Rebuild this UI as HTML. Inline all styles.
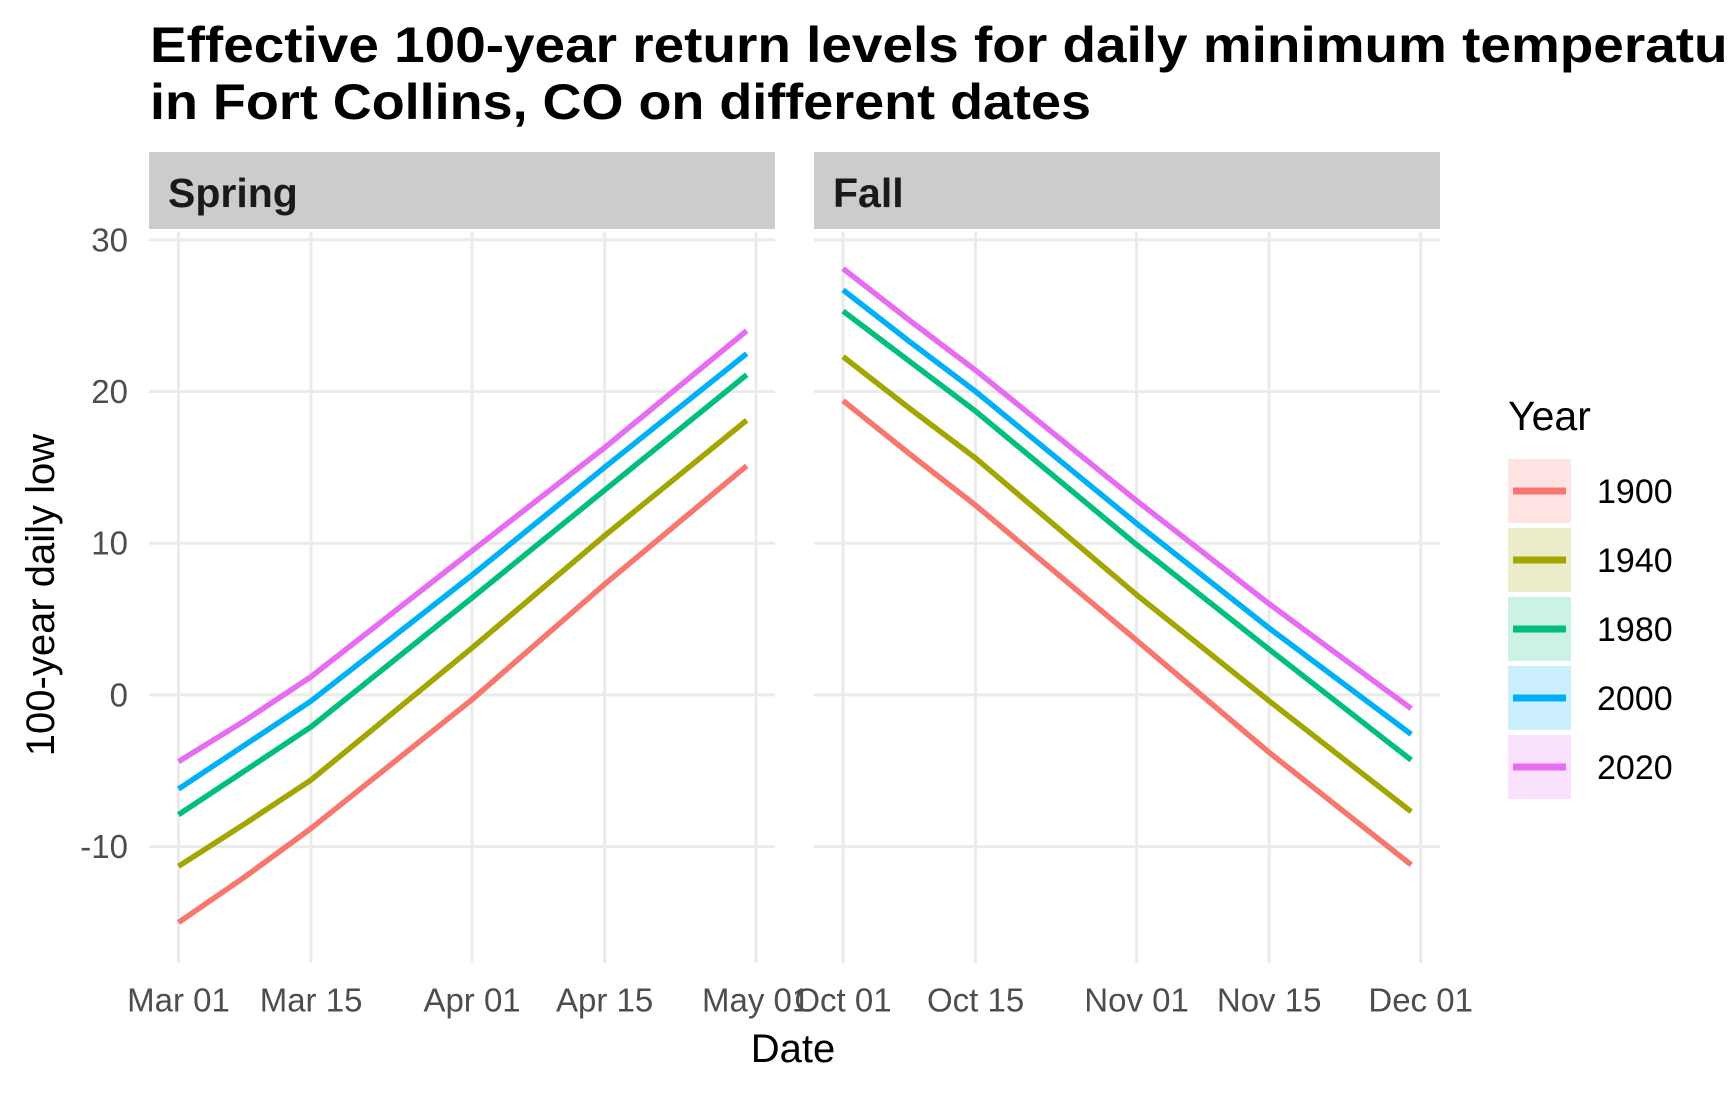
<!DOCTYPE html>
<html><head><meta charset="utf-8"><style>
html,body{margin:0;padding:0;background:#fff;}
svg{display:block;font-family:"Liberation Sans",sans-serif;}
</style></head><body>
<svg id="chart" width="1728" height="1094" viewBox="0 0 1728 1094">
<text x="150" y="62" font-size="50" font-weight="bold" fill="#000" textLength="1660" lengthAdjust="spacingAndGlyphs">Effective 100-year return levels for daily minimum temperatures</text>
<text x="150" y="119" font-size="50" font-weight="bold" fill="#000" textLength="941" lengthAdjust="spacingAndGlyphs">in Fort Collins, CO on different dates</text>
<g id="panels"></g>
<text x="41" y="595" font-size="40" fill="#000" text-anchor="middle" dominant-baseline="central" transform="rotate(-90 41 595)">100-year daily low</text>
<text x="793" y="1049" font-size="40" fill="#000" text-anchor="middle" dominant-baseline="central">Date</text>
<g id="legend"></g>
</svg>
<script>
const years = ["1900","1940","1980","2000","2020"];
const colors = ["#F8766D","#A3A500","#00BF7D","#00B0F6","#E76BF3"];
const yTicks = [-10,0,10,20,30];
const sampleDays = [0,7,14,31,45,60];
const springTickDays = [0,14,31,45,61];
const springTickLabels = ["Mar 01","Mar 15","Apr 01","Apr 15","May 01"];
const fallTickDays = [0,14,31,45,61];
const fallTickLabels = ["Oct 01","Oct 15","Nov 01","Nov 15","Dec 01"];
const spring1900 = [-15.0,-12.0,-8.8,-0.3,7.3,15.1];
const spring1940 = [-11.3,-8.5,-5.6,3.1,10.5,18.1];
const spring1980 = [-7.9,-5.0,-2.1,6.4,13.5,21.1];
const spring2000 = [-6.2,-3.3,-0.4,7.9,15.0,22.5];
const spring2020 = [-4.4,-1.7,1.2,9.5,16.3,24.0];
const fall1900 = [19.4,15.9,12.5,3.6,-3.8,-11.2];
const fall1940 = [22.3,18.9,15.6,6.6,-0.4,-7.7];
const fall1980 = [25.3,22.0,18.7,9.9,3.0,-4.3];
const fall2000 = [26.7,23.3,20.0,11.3,4.4,-2.6];
const fall2020 = [28.1,24.7,21.4,12.8,6.0,-0.9];
const springSeries = [spring1900,spring1940,spring1980,spring2000,spring2020];
const fallSeries = [fall1900,fall1940,fall1980,fall2000,fall2020];

const NS = "http://www.w3.org/2000/svg";
function mk(tag, attrs, parent){const e=document.createElementNS(NS,tag);for(const k in attrs)e.setAttribute(k,attrs[k]);parent.appendChild(e);return e;}
const yScale = v => 694.9 - 15.17*v;
const panelTop = 232, panelBottom = 963;
const panels = document.getElementById("panels");
const legend = document.getElementById("legend");

function drawPanel(name, x0, x1, origin, tickDays, tickLabels, series, showY){
  const xs = d => origin + d*9.47;
  const g = mk("g",{},panels);
  
  
  const strip = mk("rect",{x:x0,y:152,width:x1-x0,height:77,fill:"#cccccc"},g);
  
  
  const st = mk("text",{x:x0+19,y:193,"font-size":41,"font-weight":"bold",fill:"#1a1a1a","dominant-baseline":"central"},g);
  st.textContent = name==="spring"?"Spring":"Fall";
  
  
  yTicks.forEach(v=>{
    const l = mk("line",{x1:x0,x2:x1,y1:yScale(v),y2:yScale(v),stroke:"#ebebeb","stroke-width":3},g);
    
    
    if(showY){
      const t = mk("text",{x:128,y:yScale(v),"font-size":33,fill:"#4d4d4d","text-anchor":"end","dominant-baseline":"central"},g);
      t.textContent = v;
      
      
    }
  });
  tickDays.forEach((d,i)=>{
    const l = mk("line",{x1:xs(d),x2:xs(d),y1:panelTop,y2:panelBottom,stroke:"#ebebeb","stroke-width":3},g);
    
    
    const t = mk("text",{x:xs(d),y:1000,"font-size":33,fill:"#4d4d4d","text-anchor":"middle","dominant-baseline":"central"},g);
    t.textContent = tickLabels[i];
    
    
  });
  series.forEach((vals,si)=>{
    const pts = vals.map((v,i)=>xs(sampleDays[i]).toFixed(1)+","+yScale(v).toFixed(1)).join(" ");
    const p = mk("polyline",{points:pts,fill:"none",stroke:colors[si],"stroke-width":5.5,"stroke-linejoin":"round"},g);
    
    
  });
}
drawPanel("spring",149,775,178.5,springTickDays,springTickLabels,springSeries,true);
drawPanel("fall",814,1440,843,fallTickDays,fallTickLabels,fallSeries,false);

const lt = mk("text",{x:1508,y:416,"font-size":41,fill:"#000","dominant-baseline":"central"},legend);
lt.textContent = "Year";


years.forEach((yr,i)=>{
  const top = 459 + i*69;
  const g = mk("g",{},legend);
  
  
  mk("rect",{x:1508,y:top,width:63,height:64,fill:colors[i],"fill-opacity":0.2},g);
  mk("line",{x1:1513,x2:1566,y1:top+32,y2:top+32,stroke:colors[i],"stroke-width":7},g);
  const t = mk("text",{x:1597,y:top+33,"font-size":34,fill:"#000","dominant-baseline":"central"},g);
  t.textContent = yr;
});
</script>
</body></html>
